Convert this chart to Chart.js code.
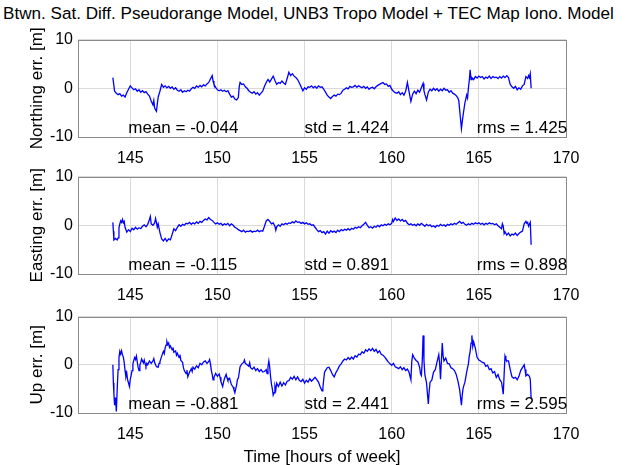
<!DOCTYPE html>
<html>
<head>
<meta charset="utf-8">
<script src="https://cdn.jsdelivr.net/npm/chart.js@4.4.1/dist/chart.umd.min.js"></script>
<style>
  html, body { margin: 0; padding: 0; background: #fff; overflow: hidden; width: 633px; height: 465px; }
  #title { position: absolute; left: 3px; top: 4px; white-space: nowrap;
           font: 17.1px "Liberation Sans", Arial, sans-serif; color: #000; }
  canvas { position: absolute; left: 0; }
</style>
</head>
<body>
<div id="title">Btwn. Sat. Diff. Pseudorange Model, UNB3 Tropo Model + TEC Map Iono. Model</div>
<canvas id="north" width="633" height="140" style="top:25px"></canvas>
<canvas id="east" width="633" height="140" style="top:162px"></canvas>
<canvas id="up" width="633" height="171" style="top:302px"></canvas>
<script>
const FONT = '"Liberation Sans", Arial, sans-serif';

const xTickLabels = [145, 150, 155, 160, 165, 170];
const yTickLabels = [-10, 0, 10];

// Northing error (m) vs time (hours of week)
const northHours = [
  144.0,144.05,144.1,144.2,144.3,144.4,144.5,144.6,144.7,144.8,
  144.9,145.0,145.1,145.2,145.3,145.4,145.5,145.6,145.7,145.8,
  145.9,146.0,146.1,146.2,146.3,146.35,146.4,146.5,146.55,146.6,
  146.7,146.8,146.9,147.0,147.1,147.2,147.3,147.4,147.5,147.6,
  147.7,147.8,147.9,148.0,148.1,148.2,148.3,148.4,148.5,148.6,
  148.7,148.8,148.9,149.0,149.1,149.2,149.3,149.4,149.5,149.6,
  149.7,149.75,149.8,149.9,150.0,150.1,150.2,150.3,150.4,150.5,
  150.6,150.7,150.8,150.9,151.0,151.1,151.2,151.25,151.3,151.4,
  151.5,151.6,151.7,151.8,151.9,152.0,152.1,152.2,152.3,152.4,
  152.5,152.6,152.7,152.8,152.9,153.0,153.1,153.2,153.3,153.4,
  153.5,153.6,153.7,153.8,153.9,154.0,154.1,154.2,154.3,154.4,
  154.5,154.6,154.7,154.8,154.9,155.0,155.1,155.2,155.3,155.4,
  155.5,155.6,155.7,155.8,155.9,156.0,156.1,156.2,156.3,156.4,
  156.5,156.6,156.7,156.8,156.9,157.0,157.1,157.2,157.3,157.4,
  157.5,157.6,157.7,157.8,157.9,158.0,158.1,158.2,158.3,158.4,
  158.5,158.6,158.7,158.8,158.9,159.0,159.1,159.2,159.3,159.4,
  159.5,159.6,159.7,159.8,159.9,160.0,160.1,160.2,160.3,160.4,
  160.5,160.6,160.7,160.8,160.9,161.0,161.1,161.2,161.3,161.4,
  161.5,161.6,161.7,161.8,161.85,161.9,162.0,162.1,162.2,162.3,
  162.4,162.5,162.6,162.7,162.8,162.9,163.0,163.1,163.2,163.3,
  163.4,163.5,163.6,163.7,163.8,163.85,163.9,164.0,164.05,164.1,
  164.2,164.3,164.35,164.4,164.45,164.5,164.55,164.6,164.7,164.8,
  164.9,165.0,165.1,165.2,165.3,165.4,165.5,165.6,165.7,165.8,
  165.9,166.0,166.1,166.2,166.3,166.4,166.5,166.6,166.7,166.8,
  166.9,167.0,167.1,167.2,167.3,167.4,167.5,167.6,167.7,167.8,
  167.85,167.9,167.95,168.0
];
const northErr = [
  2.2,0.8,-0.6,-1.0,-1.3,-1.1,-1.6,-1.4,-1.8,-0.9,
  -0.2,0.5,0.1,-0.3,-0.1,-0.6,-0.3,-0.8,-0.5,-0.9,
  -0.7,-1.2,-1.6,-2.6,-3.4,-2.5,-4.1,-4.7,-3.2,-1.8,
  -0.6,0.8,0.2,0.5,0.1,0.4,0.0,0.3,-0.2,0.1,
  -0.4,-0.6,-0.3,-0.8,-0.5,-0.7,-0.4,-0.6,-0.1,0.2,
  0.0,0.5,0.2,0.6,0.3,0.7,0.5,0.9,1.2,1.9,
  2.6,1.5,0.8,0.2,-0.3,-0.5,-0.3,-0.6,-0.4,-0.7,
  -0.5,-1.2,-1.8,-1.6,-2.2,-2.4,-1.9,0.3,1.2,0.8,
  0.9,0.3,0.0,-0.5,-0.8,-1.0,-0.7,-1.2,-0.9,-1.4,
  -1.0,-0.6,0.4,1.2,1.8,1.3,1.9,2.5,1.6,0.8,
  1.2,1.0,1.5,1.1,0.8,2.0,3.3,2.6,3.0,2.5,
  2.2,1.8,1.1,0.3,-0.5,0.1,-0.2,0.3,0.2,0.5,
  0.1,0.4,0.0,0.5,0.2,0.3,-0.2,-0.8,-1.4,-1.8,
  -2.1,-1.7,-1.4,-1.6,-1.2,-1.3,-1.0,-0.4,-0.2,0.1,
  -0.1,0.4,0.2,0.3,0.6,0.2,0.5,0.3,0.1,0.4,
  0.0,0.3,-0.2,0.1,0.2,-0.1,0.3,0.6,0.8,1.0,
  1.2,0.8,0.9,0.4,0.6,-0.2,-0.6,-0.9,-1.0,-0.7,
  -1.3,-0.9,-1.4,-0.6,1.2,-0.8,-2.7,-1.2,-0.6,-1.1,
  -0.4,-0.8,0.1,1.0,-0.5,-1.2,-2.4,-0.8,-0.2,-0.5,
  0.0,-0.4,-0.1,-0.6,-0.2,-0.5,0.0,-0.4,-0.3,-0.8,
  -0.5,-1.0,-1.2,-1.5,-2.0,-2.6,-4.5,-8.3,-6.8,-5.4,
  -3.0,-1.4,-2.0,0.0,1.6,3.8,1.8,2.2,1.8,2.4,
  2.1,2.5,2.2,2.4,1.9,2.3,2.1,2.5,2.0,2.4,
  2.2,2.3,2.0,2.4,2.1,2.5,2.2,2.6,2.2,0.8,
  0.3,0.0,0.4,-0.3,0.1,-0.2,0.5,0.8,2.4,2.0,
  2.6,2.2,3.0,0.0
];

// Easting error (m)
const eastHours = [
  144.0,144.03,144.06,144.15,144.25,144.3,144.35,144.4,144.45,144.5,
  144.55,144.6,144.65,144.7,144.8,144.9,145.0,145.1,145.2,145.3,
  145.4,145.5,145.6,145.7,145.8,145.9,146.0,146.1,146.15,146.2,
  146.3,146.4,146.45,146.5,146.55,146.6,146.7,146.8,146.9,147.0,
  147.1,147.2,147.3,147.4,147.5,147.6,147.7,147.8,147.9,148.0,
  148.1,148.2,148.3,148.4,148.5,148.6,148.7,148.8,148.9,149.0,
  149.1,149.2,149.3,149.4,149.5,149.6,149.7,149.8,149.9,150.0,
  150.1,150.2,150.3,150.4,150.5,150.6,150.7,150.8,150.9,151.0,
  151.1,151.2,151.3,151.4,151.5,151.6,151.7,151.8,151.9,152.0,
  152.1,152.2,152.3,152.4,152.5,152.6,152.7,152.8,152.9,153.0,
  153.1,153.2,153.3,153.35,153.4,153.5,153.6,153.7,153.8,153.9,
  154.0,154.1,154.2,154.3,154.4,154.5,154.6,154.7,154.8,154.9,
  155.0,155.1,155.2,155.3,155.4,155.5,155.6,155.7,155.8,155.9,
  156.0,156.1,156.2,156.3,156.4,156.5,156.6,156.7,156.8,156.9,
  157.0,157.1,157.2,157.3,157.4,157.5,157.6,157.7,157.8,157.9,
  158.0,158.1,158.2,158.3,158.4,158.5,158.6,158.7,158.8,158.9,
  159.0,159.1,159.2,159.3,159.4,159.5,159.6,159.7,159.8,159.9,
  160.0,160.05,160.1,160.2,160.3,160.4,160.5,160.6,160.7,160.8,
  160.9,161.0,161.1,161.2,161.3,161.4,161.5,161.6,161.7,161.8,
  161.9,162.0,162.1,162.2,162.3,162.4,162.5,162.6,162.7,162.8,
  162.9,163.0,163.1,163.2,163.3,163.4,163.5,163.6,163.7,163.8,
  163.9,164.0,164.1,164.2,164.3,164.4,164.5,164.6,164.7,164.8,
  164.9,165.0,165.1,165.2,165.3,165.4,165.5,165.6,165.7,165.8,
  165.9,166.0,166.1,166.2,166.3,166.35,166.4,166.45,166.5,166.6,
  166.7,166.8,166.9,167.0,167.1,167.2,167.3,167.4,167.5,167.6,
  167.7,167.75,167.8,167.85,167.95,168.0
];
const eastErr = [
  0.6,-1.2,-3.0,-2.7,-3.0,-2.6,-0.5,0.3,0.9,0.6,
  1.2,0.5,0.8,-0.4,-1.4,-0.9,-1.3,-0.6,-0.9,-0.4,
  -0.8,-0.5,-0.7,-0.2,0.1,-0.3,0.2,1.2,1.8,0.3,
  0.0,0.5,1.4,0.6,-0.4,0.3,-1.5,-2.8,-3.2,-2.7,
  -3.3,-2.8,-3.0,-1.9,-0.7,-1.1,-0.4,0.1,-0.2,0.2,
  0.0,0.4,0.3,0.6,0.2,0.5,0.3,0.7,0.4,0.8,
  0.6,1.0,1.3,1.1,1.6,1.2,1.0,0.6,0.3,0.5,
  0.2,0.4,0.0,0.3,0.1,0.4,-0.1,0.3,0.0,-0.4,
  -0.6,-0.9,-1.1,-1.3,-1.0,-1.4,-1.2,-1.3,-1.1,-1.4,
  -1.2,-1.3,-1.0,-1.3,-1.1,-1.2,-0.2,0.9,1.2,0.8,
  0.3,0.5,-0.2,-1.0,-0.3,0.1,-0.2,0.3,0.1,0.4,
  0.2,0.5,0.4,0.7,0.5,0.9,0.6,0.7,0.4,0.6,
  0.3,0.5,0.2,0.3,0.0,0.1,-0.4,-0.9,-1.3,-1.1,
  -1.5,-1.3,-1.8,-1.2,-1.6,-1.1,-1.4,-1.2,-1.5,-1.0,
  -1.3,-0.9,-1.1,-0.8,-1.0,-0.7,-1.0,-0.6,-0.8,-0.4,
  -0.6,-0.3,-0.5,-0.1,0.2,0.6,0.0,-0.5,-0.3,-0.6,
  -0.2,-0.4,0.0,-0.3,0.1,-0.1,0.2,0.0,0.3,0.1,
  0.4,1.2,0.8,1.5,1.0,1.3,0.9,1.2,0.8,1.0,
  0.4,0.1,0.3,0.0,0.2,-0.1,0.3,0.0,0.4,0.1,
  -0.2,0.2,-0.1,0.1,-0.3,-0.1,-0.4,0.0,-0.2,0.2,
  -0.1,0.1,-0.2,0.2,0.0,0.3,0.1,0.4,0.2,0.5,
  0.8,0.4,0.6,0.2,0.0,0.3,0.1,0.4,0.2,0.5,
  0.3,0.5,0.2,0.4,0.1,0.4,0.2,0.5,0.3,0.4,
  0.1,0.3,-0.1,-0.4,-0.7,0.3,-0.2,-1.7,-1.3,-2.0,
  -1.6,-2.2,-1.8,-2.0,-1.6,-2.1,-1.7,-1.4,-1.2,0.3,
  0.8,0.4,0.6,-0.2,0.6,-4.0
];

// Up error (m)
const upHours = [
  144.0,144.03,144.06,144.1,144.15,144.2,144.25,144.3,144.35,144.4,
  144.45,144.5,144.55,144.6,144.65,144.7,144.75,144.8,144.85,144.9,
  144.95,145.0,145.05,145.1,145.15,145.2,145.25,145.3,145.35,145.4,
  145.45,145.5,145.55,145.6,145.65,145.7,145.75,145.8,145.85,145.9,
  145.95,146.0,146.1,146.2,146.3,146.35,146.4,146.5,146.6,146.65,
  146.7,146.8,146.9,146.95,147.0,147.05,147.1,147.15,147.2,147.25,
  147.3,147.4,147.45,147.5,147.6,147.65,147.7,147.8,147.85,147.9,
  148.0,148.05,148.1,148.2,148.25,148.3,148.4,148.5,148.55,148.6,
  148.7,148.8,148.9,149.0,149.1,149.2,149.3,149.4,149.5,149.55,
  149.6,149.65,149.7,149.75,149.8,149.9,150.0,150.1,150.15,150.2,
  150.3,150.35,150.4,150.5,150.55,150.6,150.7,150.8,150.9,150.95,
  151.0,151.05,151.1,151.15,151.2,151.25,151.3,151.4,151.5,151.55,
  151.6,151.7,151.8,151.85,151.9,152.0,152.1,152.2,152.3,152.4,
  152.5,152.6,152.7,152.8,152.85,152.9,152.95,153.0,153.05,153.1,
  153.15,153.2,153.25,153.3,153.35,153.4,153.5,153.6,153.7,153.8,
  153.9,154.0,154.1,154.2,154.3,154.4,154.5,154.6,154.7,154.8,
  154.9,155.0,155.1,155.2,155.3,155.4,155.5,155.6,155.7,155.8,
  155.9,156.0,156.05,156.1,156.15,156.2,156.3,156.4,156.5,156.6,
  156.7,156.8,156.9,157.0,157.1,157.2,157.3,157.4,157.5,157.6,
  157.7,157.8,157.9,158.0,158.1,158.2,158.3,158.4,158.5,158.6,
  158.7,158.8,158.9,159.0,159.1,159.2,159.3,159.4,159.5,159.6,
  159.7,159.8,159.9,160.0,160.1,160.2,160.3,160.4,160.5,160.6,
  160.7,160.8,160.9,161.0,161.05,161.1,161.15,161.2,161.3,161.4,
  161.5,161.6,161.65,161.7,161.75,161.8,161.85,161.9,162.0,162.05,
  162.1,162.15,162.2,162.3,162.4,162.5,162.6,162.7,162.75,162.8,
  162.85,162.9,162.95,163.0,163.1,163.2,163.3,163.4,163.5,163.6,
  163.7,163.8,163.9,164.0,164.05,164.1,164.2,164.3,164.4,164.45,
  164.5,164.55,164.6,164.65,164.7,164.8,164.9,165.0,165.1,165.2,
  165.3,165.4,165.5,165.6,165.7,165.8,165.9,166.0,166.1,166.2,
  166.3,166.35,166.4,166.45,166.5,166.55,166.6,166.7,166.8,166.9,
  167.0,167.1,167.2,167.3,167.4,167.5,167.6,167.65,167.7,167.8,
  167.9,167.95,168.0
];
const upErr = [
  0.0,-3.8,-6.0,-8.4,-6.8,-9.7,-5.0,-1.0,1.5,2.8,
  2.2,2.9,2.1,1.6,0.5,-1.2,-2.5,-1.8,-3.2,-3.8,
  -4.5,-3.0,-2.2,-1.2,0.2,0.9,1.5,1.1,1.8,0.6,
  -0.5,-1.2,0.0,0.5,1.2,0.8,0.4,1.0,0.2,-0.3,
  0.3,0.0,0.8,0.3,0.8,1.3,0.4,-0.4,-0.5,0.3,
  0.6,1.8,2.8,2.3,3.5,4.1,4.8,4.2,4.5,3.6,
  3.9,3.1,3.6,2.6,2.9,2.0,2.4,1.5,2.1,0.9,
  0.5,-0.6,-1.2,-1.8,-1.1,-2.5,-1.5,-0.8,-1.4,-0.5,
  -0.9,-0.2,-0.6,0.3,0.0,0.6,0.8,0.3,0.7,1.1,
  0.2,-1.2,-2.0,-3.1,-2.6,-1.8,-2.4,-1.9,-2.6,-3.5,
  -4.5,-3.6,-2.9,-2.0,-2.7,-3.2,-2.8,-4.1,-4.6,-5.2,
  -5.8,-5.0,-4.2,-3.0,-2.8,-1.6,-0.4,0.2,0.5,1.0,
  0.3,0.0,-0.3,0.4,-0.6,-0.9,-0.5,-1.2,-0.8,-1.4,
  -1.0,-1.5,-1.4,-1.0,-1.8,-0.4,0.8,-0.5,-2.5,-4.0,
  -5.0,-6.3,-5.8,-4.4,-5.2,-3.8,-4.5,-3.6,-4.4,-3.7,
  -4.2,-3.4,-3.3,-2.6,-3.0,-2.4,-3.1,-2.5,-3.2,-3.5,
  -3.0,-3.8,-3.2,-3.6,-2.9,-3.4,-3.0,-2.6,-3.1,-3.6,
  -4.6,-5.4,-4.8,-3.0,-1.5,-1.2,-0.6,-0.5,-1.2,-2.0,
  -2.5,-1.6,-1.0,-0.2,0.2,0.8,1.2,1.0,1.5,1.1,
  1.6,1.2,1.9,1.6,2.2,2.1,2.7,2.4,3.1,2.8,
  3.3,2.9,3.4,2.8,3.2,2.5,2.9,2.2,2.0,1.6,
  1.1,0.6,0.2,-0.1,0.3,-0.4,-0.6,-0.8,-0.4,-1.0,
  -0.6,-1.2,-0.9,-1.6,-2.4,-3.1,0.6,2.1,1.4,0.9,
  0.6,-0.5,-1.8,-2.2,0.5,6.1,1.0,-2.0,-3.8,-6.0,
  -8.1,-5.5,-3.6,-3.2,-1.5,-1.0,0.6,2.1,0.3,-3.0,
  0.8,4.5,1.8,0.8,1.4,0.3,0.2,-0.6,-0.8,-1.2,
  -2.0,-3.4,-5.2,-8.4,-6.2,-4.8,-3.6,-1.5,0.2,1.8,
  2.8,4.5,6.1,3.8,4.8,3.4,1.5,1.0,0.8,0.5,
  0.4,-0.3,-0.1,-1.0,-0.8,-1.7,-1.4,-2.6,-2.0,-3.1,
  -3.6,-4.8,-6.1,-2.0,1.8,1.2,0.8,0.8,-1.0,-2.5,
  -2.8,-2.6,-3.1,-2.4,-1.2,-0.6,0.0,-1.0,-2.3,-2.0,
  -2.4,-3.0,-7.1
];

const axisTitles = ['Northing err. [m]', 'Easting err. [m]', 'Up err. [m]'];
const meanLabels = ['-0.044', '-0.115', '-0.881'];
const stdLabels = ['1.424', '0.891', '2.441'];
const rmsLabels = ['1.425', '0.898', '2.595'];

// grey box round the plot area, like MATLAB's "box on"
const boxPlugin = {
  id: 'box',
  afterDatasetsDraw(chart) {
    const a = chart.chartArea, ctx = chart.ctx;
    ctx.save();
    ctx.strokeStyle = '#8a8a8a';
    ctx.lineWidth = 1;
    ctx.strokeRect(Math.round(a.left) + 0.5, Math.round(a.top) + 0.5,
                   Math.round(a.right - a.left), Math.round(a.bottom - a.top));
    ctx.restore();
  }
};

function statsPlugin(i) {
  return {
    id: 'stats',
    afterDatasetsDraw(chart) {
      const x = chart.scales.x, y = chart.scales.y, ctx = chart.ctx;
      ctx.save();
      ctx.fillStyle = '#000';
      ctx.font = '17px ' + FONT;
      ctx.textBaseline = 'middle';
      ctx.textAlign = 'left';
      const py = y.getPixelForValue(-8.2);
      ctx.fillText('mean = ' + meanLabels[i], x.getPixelForValue(145) - 2, py);
      ctx.fillText('std = ' + stdLabels[i], x.getPixelForValue(155), py);
      ctx.fillText('rms = ' + rmsLabels[i], x.getPixelForValue(165) - 2, py);
      ctx.restore();
    }
  };
}

function makePanel(id, i, hours, errs, xAxisHeight, xTitle) {
  const points = hours.map((h, k) => ({ x: h, y: errs[k] }));
  return new Chart(document.getElementById(id), {
    type: 'line',
    data: {
      datasets: [{
        data: points,
        borderColor: '#0000ff',
        borderWidth: 1.3,
        pointRadius: 0,
        tension: 0,
        fill: false
      }]
    },
    options: {
      responsive: false,
      animation: false,
      events: [],
      layout: { padding: { top: 10, right: 67, left: 0, bottom: 0 } },
      plugins: { legend: { display: false }, tooltip: { enabled: false } },
      scales: {
        x: {
          type: 'linear',
          min: 142,
          max: 170,
          afterBuildTicks: s => { s.ticks = xTickLabels.map(v => ({ value: v })); },
          afterFit: s => { s.height = xAxisHeight; },
          grid: { color: '#dadada', drawTicks: false },
          border: { display: false },
          ticks: { padding: 12, color: '#000', maxRotation: 0, font: { family: FONT, size: 16 } },
          title: {
            display: !!xTitle,
            text: xTitle || '',
            color: '#000',
            padding: { top: 0, bottom: 5 },
            font: { family: FONT, size: 17 }
          }
        },
        y: {
          min: -10,
          max: 10,
          afterBuildTicks: s => { s.ticks = yTickLabels.map(v => ({ value: v })); },
          afterFit: s => { s.width = 78; },
          grid: { color: '#dadada', drawTicks: false },
          border: { display: false },
          ticks: { padding: 5, color: '#000', font: { family: FONT, size: 16 } },
          title: {
            display: true,
            text: axisTitles[i],
            color: '#000',
            padding: { top: 27, bottom: 0 },
            font: { family: FONT, size: 17 }
          }
        }
      }
    },
    plugins: [boxPlugin, statsPlugin(i)]
  });
}

makePanel('north', 0, northHours, northErr, 28);
makePanel('east', 1, eastHours, eastErr, 28);
makePanel('up', 2, upHours, upErr, 60, 'Time [hours of week]');
</script>
</body>
</html>
